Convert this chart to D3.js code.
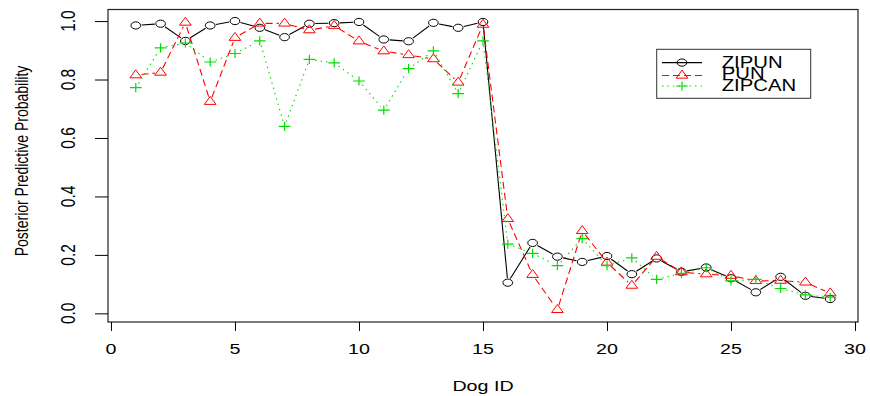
<!DOCTYPE html>
<html>
<head>
<meta charset="utf-8">
<script src="https://cdn.jsdelivr.net/npm/d3@7"></script>
<style>
  body { margin: 0; background: #fff; }
  text { font-family: "Liberation Sans", Arial, sans-serif; fill: #000; }
</style>
</head>
<body>
<div id="chart"></div>
<script>
(function() {
    var width = 870,
        height = 396;

    // data
    var dogIds = [1, 2, 3, 4, 5, 6, 7, 8, 9, 10, 11, 12, 13, 14, 15,
                  16, 17, 18, 19, 20, 21, 22, 23, 24, 25, 26, 27, 28, 29];
    var zipun = [0.985, 0.991, 0.932, 0.985, 1.000, 0.977, 0.945, 0.991, 0.993, 0.997,
                 0.937, 0.931, 0.994, 0.977, 0.997, 0.105, 0.241, 0.194, 0.176, 0.196,
                 0.134, 0.188, 0.142, 0.157, 0.120, 0.072, 0.125, 0.060, 0.049];
    var pun = [0.815, 0.824, 0.995, 0.724, 0.943, 0.992, 0.992, 0.969, 0.984, 0.931,
               0.897, 0.884, 0.870, 0.790, 0.988, 0.323, 0.132, 0.012, 0.282, 0.174,
               0.095, 0.194, 0.141, 0.134, 0.129, 0.111, 0.112, 0.106, 0.069];
    var zipcan = [0.772, 0.908, 0.925, 0.860, 0.889, 0.932, 0.640, 0.869, 0.857, 0.795,
                  0.695, 0.837, 0.898, 0.752, 0.932, 0.237, 0.205, 0.163, 0.256, 0.163,
                  0.190, 0.116, 0.137, 0.156, 0.111, 0.116, 0.085, 0.063, 0.055];
    var xTicks = [0, 5, 10, 15, 20, 25, 30];
    var yTicks = [0, 0.2, 0.4, 0.6, 0.8, 1.0];
    var seriesNames = ["ZIPUN", "PUN", "ZIPCAN"];

    var series = [
        { name: seriesNames[0], values: zipun, color: "#000", dash: null, shape: "circle" },
        { name: seriesNames[1], values: pun, color: "#ff0000", dash: "7,4", shape: "triangle" },
        { name: seriesNames[2], values: zipcan, color: "#00dd00", dash: "1.5,4", shape: "plus" }
    ];

    // the picture is stretched sideways
    var sx = 1.27;

    var box = { left: 108, right: 858, top: 9.5, bottom: 322 };

    var x = d3.scaleLinear().domain([-0.12, 30.12]).range([box.left, box.right]);
    var y = d3.scaleLinear().domain([-0.0296, 1.0396]).range([box.bottom, box.top]);

    var svg = d3.select("#chart")
        .append("svg")
        .attr("width", width)
        .attr("height", height);

    function label(txt, px, py, size, rotate, anchor) {
        return svg.append("text")
            .attr("transform", "translate(" + px + "," + py + ") scale(" + sx + ",1)" + (rotate ? " rotate(-90)" : ""))
            .attr("text-anchor", anchor || "middle")
            .style("font-size", size + "px")
            .text(txt);
    }

    function marker(g, shape, cx, cy, color) {
        if (shape == "circle") {
            g.append("ellipse")
                .attr("cx", cx).attr("cy", cy)
                .attr("rx", 3.8 * sx).attr("ry", 3.6)
                .attr("fill", "none").attr("stroke", color).attr("stroke-width", 1);
        } else if (shape == "triangle") {
            var r = 5.3, h = 4.6 * sx;
            g.append("path")
                .attr("d", "M" + cx + "," + (cy - r) + "L" + (cx + h) + "," + (cy + r / 2) +
                    "L" + (cx - h) + "," + (cy + r / 2) + "Z")
                .attr("fill", "none").attr("stroke", color).attr("stroke-width", 1);
        } else {
            var a = 4.6;
            g.append("path")
                .attr("d", "M" + (cx - a * sx) + "," + cy + "H" + (cx + a * sx) +
                    "M" + cx + "," + (cy - a) + "V" + (cy + a))
                .attr("fill", "none").attr("stroke", color).attr("stroke-width", 1.2);
        }
    }

    // plot box
    svg.append("rect")
        .attr("x", box.left).attr("y", box.top)
        .attr("width", box.right - box.left).attr("height", box.bottom - box.top)
        .attr("fill", "none").attr("stroke", "#222").attr("stroke-width", 1.2);

    // y axis
    var yAxis = d3.axisLeft(y).tickValues(yTicks).tickSize(13).tickFormat("");
    var gy = svg.append("g").attr("transform", "translate(" + box.left + ",0)").call(yAxis);
    gy.select(".domain").remove();
    gy.selectAll("line").attr("stroke", "#000");
    yTicks.forEach(function(t) {
        label(d3.format(".1f")(t), 75, y(t), 15.5, true);
    });

    // x axis
    var xAxis = d3.axisBottom(x).tickValues(xTicks).tickSize(9).tickFormat("");
    var gx = svg.append("g").attr("transform", "translate(0," + box.bottom + ")").call(xAxis);
    gx.select(".domain").remove();
    gx.selectAll("line").attr("stroke", "#000");
    xTicks.forEach(function(t) {
        label(String(t), x(t), 354, 15.5, false);
    });

    label("Dog ID", 483, 390.5, 15.5, false);
    label("Posterior Predictive Probability", 28, 161, 14, true);

    // lines with gaps around the points, like type = "b"
    var gap = 4.6;
    series.forEach(function(s) {
        var g = svg.append("g");
        var pts = s.values.map(function(v, i) { return [x(dogIds[i]), y(v)]; });
        for (var i = 0; i < pts.length - 1; i++) {
            var dx = (pts[i + 1][0] - pts[i][0]) / sx,
                dy = pts[i + 1][1] - pts[i][1],
                len = Math.sqrt(dx * dx + dy * dy);
            if (len <= 2 * gap) continue;
            var ux = dx / len * gap * sx, uy = dy / len * gap;
            g.append("line")
                .attr("x1", pts[i][0] + ux).attr("y1", pts[i][1] + uy)
                .attr("x2", pts[i + 1][0] - ux).attr("y2", pts[i + 1][1] - uy)
                .attr("stroke", s.color)
                .attr("stroke-width", 1.1)
                .attr("stroke-dasharray", s.dash);
        }
        pts.forEach(function(p) { marker(g, s.shape, p[0], p[1], s.color); });
    });

    // legend
    var leg = { left: 656.7, top: 49.3, right: 810.7, bottom: 98.3 };
    svg.append("rect")
        .attr("x", leg.left).attr("y", leg.top)
        .attr("width", leg.right - leg.left).attr("height", leg.bottom - leg.top)
        .attr("fill", "#fff").attr("stroke", "#333").attr("stroke-width", 1);
    var rowY = d3.scalePoint().domain(seriesNames).range([62.6, 86]);
    series.forEach(function(s) {
        var ry = rowY(s.name) + (s.shape == "triangle" ? 1.2 : 0);
        svg.append("line")
            .attr("x1", 662).attr("x2", 702)
            .attr("y1", ry).attr("y2", ry)
            .attr("stroke", s.color).attr("stroke-width", 1.1)
            .attr("stroke-dasharray", s.dash);
        marker(svg, s.shape, 682, ry, s.color);
        label(s.name, 721.7, rowY(s.name) + 5, 16, false, "start");
    });
})();
</script>
</body>
</html>
